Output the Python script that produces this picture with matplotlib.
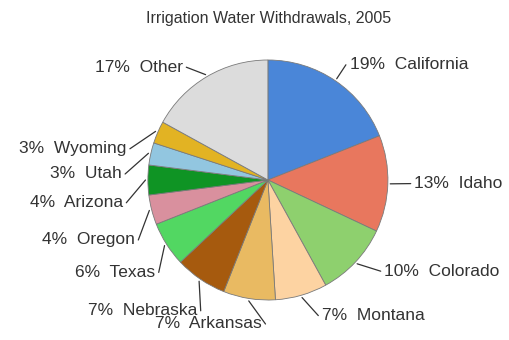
import numpy as np
import matplotlib
matplotlib.use('Agg')
import matplotlib.pyplot as plt

#%% data
states = ['California', 'Idaho', 'Colorado', 'Montana', 'Arkansas', 'Nebraska',
          'Texas', 'Oregon', 'Arizona', 'Utah', 'Wyoming', 'Other']
shares = [19, 13, 10, 7, 7, 7, 6, 4, 4, 3, 3, 17]
colors = ['#4a86d8', '#e8775e', '#8ed06e', '#fdd3a2', '#e9ba62', '#a65a0e',
          '#52d762', '#d9909e', '#0f9424', '#92c6e0', '#e2b323', '#dcdcdc']

# label layout (data units, pie radius = 1): text anchor x, y and alignment
label_pos = [(0.68, 0.96, 'left'), (1.22, -0.03, 'left'), (0.97, -0.76, 'left'),
             (0.45, -1.13, 'left'), (-0.05, -1.20, 'right'), (-0.59, -1.09, 'right'),
             (-0.94, -0.77, 'right'), (-1.11, -0.50, 'right'), (-1.21, -0.19, 'right'),
             (-1.22, 0.05, 'right'), (-1.18, 0.26, 'right'), (-0.71, 0.94, 'right')]

plt.rcParams['font.family'] = ['Liberation Sans', 'DejaVu Sans']

fig = plt.figure(figsize=(5.1, 3.4), dpi=100)
fig.patch.set_facecolor('white')
ax = fig.add_axes([0.290, 0.1176, 0.4706, 0.706])

wedges, _ = ax.pie(shares, colors=colors, startangle=90, counterclock=False,
                   wedgeprops=dict(edgecolor='#7a7a7a', linewidth=0.6))
ax.set_xlim(-1, 1)
ax.set_ylim(-1, 1)
ax.set_aspect('equal')

# leader lines + labels
for w, name, val, (tx, ty, ha) in zip(wedges, states, shares, label_pos):
    ang = np.deg2rad((w.theta1 + w.theta2) / 2)
    ex, ey = 1.02 * np.cos(ang), 1.02 * np.sin(ang)
    gap = 0.03 if ha == 'left' else -0.03
    ax.annotate('', xy=(ex, ey), xytext=(tx - gap, ty),
                arrowprops=dict(arrowstyle='-', color='#333333', lw=0.9,
                                shrinkA=0, shrinkB=0),
                annotation_clip=False)
    ax.text(tx, ty, f'{val}%  {name}', ha=ha, va='center', fontsize=12.5,
            color='#333333', clip_on=False)

fig.text(0.526, 0.945, 'Irrigation Water Withdrawals, 2005', ha='center',
         va='center', fontsize=11.5, color='#333333')

fig.savefig('out.png', dpi=100)
